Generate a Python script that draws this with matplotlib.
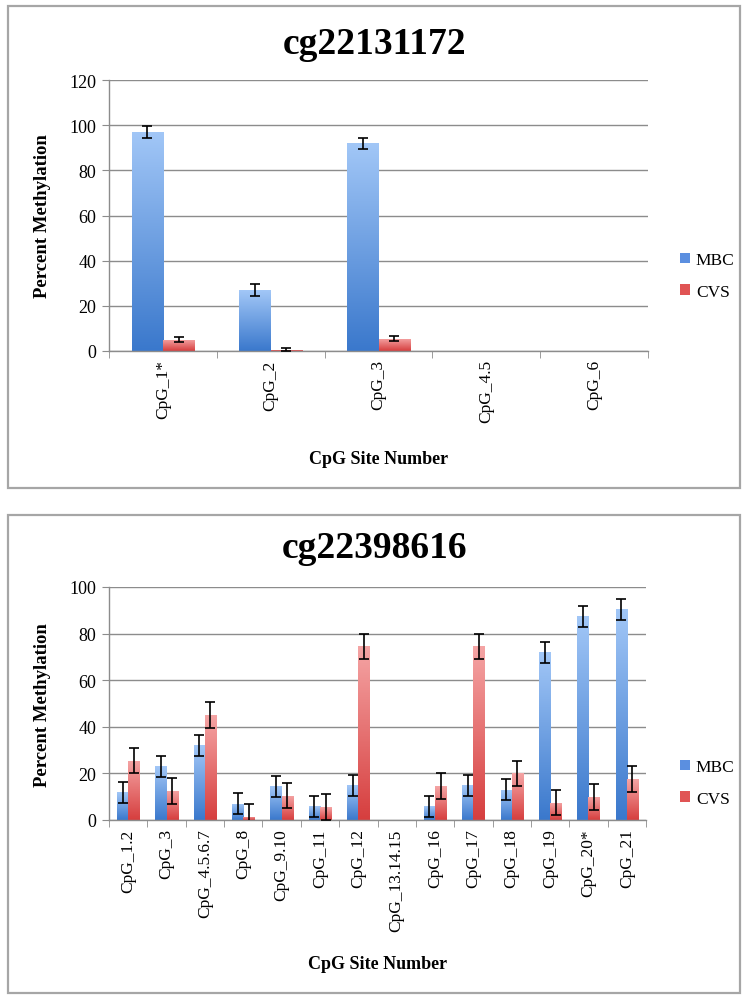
import numpy as np
import matplotlib
matplotlib.use("Agg")
import matplotlib.pyplot as plt
from matplotlib.patches import Rectangle, Patch
from matplotlib.colors import LinearSegmentedColormap

plt.rcParams['font.family'] = ['Liberation Serif', 'DejaVu Serif']

# top chart
top_title = "cg22131172"
top_sites = ["CpG_1*", "CpG_2", "CpG_3", "CpG_4.5", "CpG_6"]
top_mbc = [97, 27, 92, 0, 0]
top_mbc_err = [2.5, 2.5, 2.5, 0, 0]
top_cvs = [5, 0.5, 5.5, 0, 0]
top_cvs_err = [1, 0.7, 1, 0, 0]

# bottom chart
bot_title = "cg22398616"
bot_sites = ["CpG_1.2", "CpG_3", "CpG_4.5.6.7", "CpG_8", "CpG_9.10", "CpG_11",
             "CpG_12", "CpG_13.14.15", "CpG_16", "CpG_17", "CpG_18", "CpG_19",
             "CpG_20*", "CpG_21"]
bot_mbc = [12, 23, 32, 7, 14.5, 6, 15, 0, 6, 15, 13, 72, 87.5, 90.5]
bot_mbc_err = [4.5, 4.5, 4.5, 4.5, 4.5, 4.5, 4.5, 0, 4.5, 4.5, 4.5, 4.5, 4.5, 4.5]
bot_cvs = [25.5, 12.5, 45, 1.5, 10.5, 5.5, 74.5, 0, 14.5, 74.5, 20, 7.5, 10, 17.5]
bot_cvs_err = [5.5, 5.5, 5.5, 5.5, 5.5, 5.5, 5.5, 0, 5.5, 5.5, 5.5, 5.5, 5.5, 5.5]

blue_cmap = LinearSegmentedColormap.from_list("b", ["#3a78cc", "#a2c7f7"])
red_cmap = LinearSegmentedColormap.from_list("r", ["#d63e3e", "#f5a5a5"])
grid_col = "#8c8c8c"


def gradient_bars(ax, x, h, width, cmap):
    bars = ax.bar(x, h, width, color="none", edgecolor="none", zorder=2)
    grad = np.linspace(0, 1, 256).reshape(-1, 1)
    for b in bars:
        if b.get_height() <= 0:
            continue
        x0, w, hh = b.get_x(), b.get_width(), b.get_height()
        im = ax.imshow(grad, cmap=cmap, origin="lower", aspect="auto",
                       extent=[x0, x0 + w, 0, hh], zorder=2)
        im.set_clip_path(b)
    return bars


def errbars(ax, x, h, err):
    x = np.asarray(x)
    h = np.asarray(h, dtype=float)
    err = np.asarray(err, dtype=float)
    keep = err > 0
    ax.errorbar(x[keep], h[keep], yerr=err[keep], fmt="none", ecolor="black",
                elinewidth=1.2, capsize=3.5, capthick=1.2, zorder=3)


def draw(fig, rect, title, sites, mbc, mbc_err, cvs, cvs_err, ymax,
         title_y, ylab_y, xlab_y, leg_y):
    ax = fig.add_axes(rect)
    n = len(sites)
    x = np.arange(n)
    w = 0.29
    gradient_bars(ax, x - w / 2, mbc, w, blue_cmap)
    gradient_bars(ax, x + w / 2, cvs, w, red_cmap)
    errbars(ax, x - w / 2, mbc, mbc_err)
    errbars(ax, x + w / 2, cvs, cvs_err)
    ax.set_xlim(-0.5, n - 0.5)
    ax.set_ylim(0, ymax)
    ax.set_yticks(np.arange(0, ymax + 1, 20))
    ax.yaxis.grid(True, color=grid_col, linewidth=1.0)
    ax.set_axisbelow(True)
    ax.set_xticks(x)
    ax.set_xticklabels(sites, rotation=90, fontsize=12.5)
    ax.set_xticks(np.arange(-0.5, n, 1), minor=True)
    ax.tick_params(axis="x", which="major", length=0, pad=6)
    ax.tick_params(axis="x", which="minor", length=5, color=grid_col)
    ax.tick_params(axis="y", length=5, color=grid_col, labelsize=13, pad=4)
    for s in ["top", "right"]:
        ax.spines[s].set_visible(False)
    for s in ["left", "bottom"]:
        ax.spines[s].set_color(grid_col)
        ax.spines[s].set_linewidth(1.0)
    fig.text(0.5, title_y, title, ha="center", va="center",
             fontsize=27, fontweight="bold")
    fig.text(0.057, ylab_y, "Percent Methylation", ha="center", va="center",
             rotation=90, fontsize=13.5, fontweight="bold")
    xc = rect[0] + rect[2] / 2
    fig.text(xc, xlab_y, "CpG Site Number", ha="center", va="center",
             fontsize=13, fontweight="bold")
    handles = [Patch(facecolor="#5b8fe0", label="MBC"),
               Patch(facecolor="#e05454", label="CVS")]
    fig.legend(handles=handles, loc="center left",
               bbox_to_anchor=(0.899, leg_y), frameon=False, fontsize=12.5,
               handlelength=0.55, handleheight=0.55, handletextpad=0.35,
               labelspacing=0.9, borderaxespad=0)
    return ax


fig = plt.figure(figsize=(7.49, 10.03), dpi=100)

for (y0, y1) in [(7, 489), (516, 994)]:
    fig.patches.append(Rectangle((8 / 749, 1 - y1 / 1003), (740 - 8) / 749,
                                 (y1 - y0) / 1003, transform=fig.transFigure,
                                 fill=False, edgecolor="#a6a6a6", linewidth=1.6))

draw(fig, [109 / 749, 1 - 352 / 1003, (648 - 109) / 749, (352 - 81) / 1003],
     top_title, top_sites, top_mbc, top_mbc_err, top_cvs, top_cvs_err, 120,
     1 - 45 / 1003, 1 - 216 / 1003, 1 - 460 / 1003, 1 - 277 / 1003)
draw(fig, [109 / 749, 1 - 821 / 1003, (646 - 109) / 749, (821 - 588) / 1003],
     bot_title, bot_sites, bot_mbc, bot_mbc_err, bot_cvs, bot_cvs_err, 100,
     1 - 549 / 1003, 1 - 705 / 1003, 1 - 965 / 1003, 1 - 784 / 1003)

fig.savefig("out.png", dpi=100)
